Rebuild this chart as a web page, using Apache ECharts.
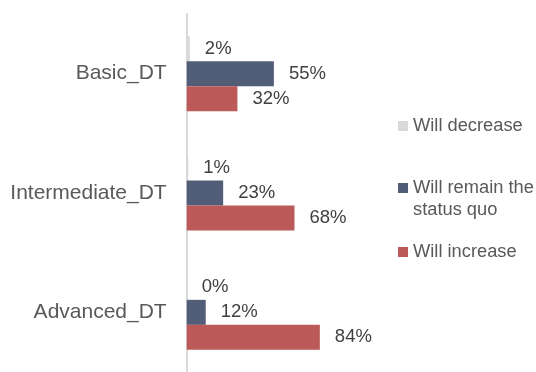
<!DOCTYPE html>
<html>
<head>
<meta charset="utf-8">
<script src="https://cdn.jsdelivr.net/npm/echarts@6/dist/echarts.min.js"></script>
<style>
    html, body { margin: 0; padding: 0; background: #fff; }
    #chart { width: 536px; height: 372px; }
</style>
</head>
<body>
<div id="chart"></div>
<script>
// 数据
var categories = ['Basic_DT', 'Intermediate_DT', 'Advanced_DT']
var seriesNames = ['Will decrease', 'Will remain the status quo', 'Will increase']
var decrease = [2, 1, 0]
var remain = [55, 23, 12]
var increase = [32, 68, 84]

var colors = ['#d9d9d9', '#525e77', '#bc5a5a']
var font = 'Liberation Sans, Arial, sans-serif'

function barSeries(name, values, color) {
    return {
        name: name,
        type: 'bar',
        data: values,
        barWidth: 25,
        barGap: '0%',
        itemStyle: { color: color },
        label: {
            show: true,
            position: 'right',
            distance: 15,
            formatter: '{c}%',
            color: '#404040',
            fontSize: 18.5,
            fontFamily: font
        }
    }
}

function legendItem(name, top) {
    return {
        data: [name],
        orient: 'vertical',
        left: 398,
        top: top,
        padding: 0,
        itemWidth: 10,
        itemHeight: 10,
        icon: 'rect',
        selectedMode: false,
        // 第二项: 空行放在上面, 让图标对齐第一行文字
        formatter: function (n) {
            return n === 'Will remain the status quo' ? ' \nWill remain the\nstatus quo' : n
        },
        textStyle: {
            color: '#595959',
            fontSize: 18.3,
            lineHeight: 22,
            fontFamily: font
        }
    }
}

var chart = echarts.init(document.getElementById('chart'))
var option = {
    animation: false,
    color: colors,
    grid: {
        left: 186.7,
        width: 158.5,
        top: 14,
        height: 364
    },
    xAxis: {
        type: 'value',
        min: 0,
        max: 100,
        show: false
    },
    yAxis: {
        type: 'category',
        data: categories,
        inverse: true,
        axisLine: { show: true, lineStyle: { color: '#d9d9d9', width: 2 } },
        axisTick: { show: false },
        axisLabel: {
            margin: 20,
            color: '#595959',
            fontSize: 21,
            fontFamily: font
        }
    },
    legend: [
        legendItem(seriesNames[0], 115),
        legendItem(seriesNames[1], 155),
        legendItem(seriesNames[2], 241)
    ],
    series: [
        barSeries(seriesNames[0], decrease, colors[0]),
        barSeries(seriesNames[1], remain, colors[1]),
        barSeries(seriesNames[2], increase, colors[2])
    ]
}
chart.setOption(option)
</script>
</body>
</html>
